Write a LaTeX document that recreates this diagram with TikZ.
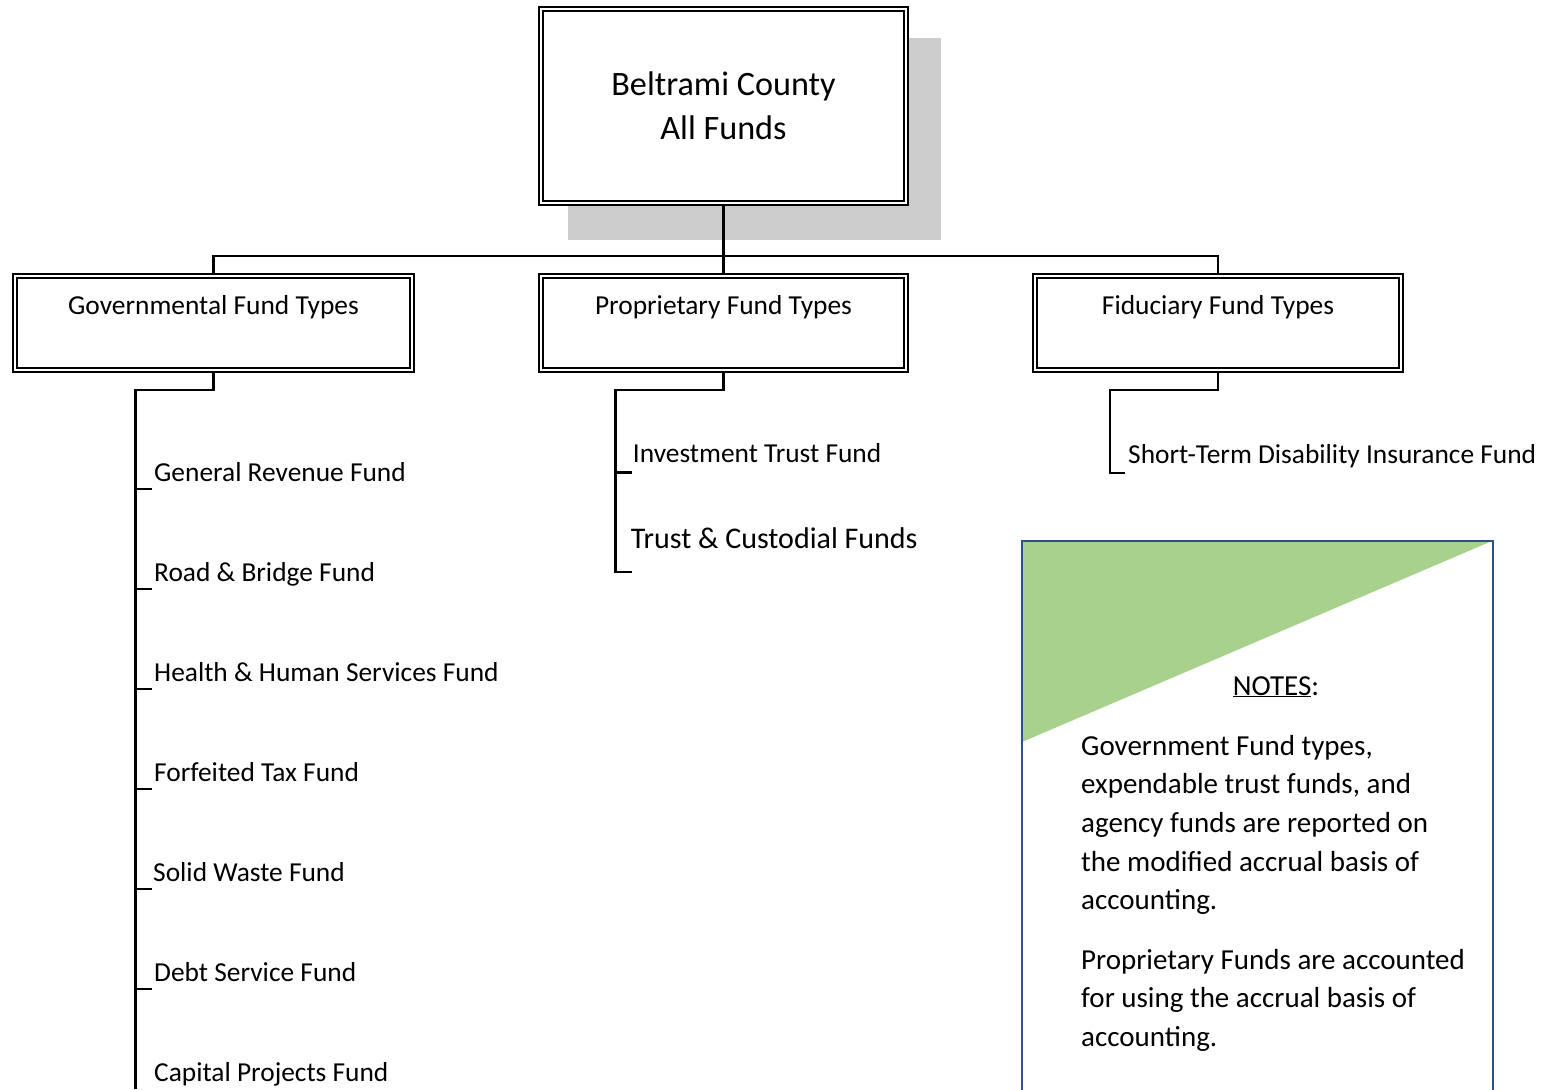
\documentclass[tikz,border=0pt]{standalone}
\usepackage{fontspec}
\setmainfont{Carlito}
\usepackage{xcolor}
\usepackage{tikz}
\usetikzlibrary{positioning}
\definecolor{shadowgray}{RGB}{204, 204, 204}
\definecolor{notegreen}{RGB}{169, 209, 142}
\definecolor{noteblue}{RGB}{47, 82, 143}

\tikzset{
  fundbox/.style={draw=black, line width=1.6pt, double=white, double distance=2pt, fill=white, inner sep=0pt},
  fundtype/.style={fundbox, minimum height=94pt, text height=38pt, text depth=56pt, font=\fontsize{27.4}{33}\selectfont},
  fund/.style={anchor=base west, inner sep=0pt, font=\fontsize{27.4}{33}\selectfont},
  link/.style={line width=2.6pt},
  notefont/.style={font=\fontsize{29}{38.6}\selectfont}
}

\begin{document}
\begin{tikzpicture}[x=1pt, y=-1pt]
\useasboundingbox (0,0) rectangle (1554,1089);

% Top box with its shadow
\fill[shadowgray] (568,38) rectangle (941,240);
\node[fundbox, minimum width=365pt, minimum height=194pt, align=center, font=\fontsize{34.2}{44}\selectfont] (root) at (723.5,106) {Beltrami County\\All Funds};

% Fund types
\node[fundtype, minimum width=397pt] (gov) at (213.5,323) {Governmental Fund Types};
\node[fundtype, minimum width=365pt] (prop) at (723.5,323) {Proprietary Fund Types};
\node[fundtype, minimum width=366pt] (fid) at (1218,323) {Fiduciary Fund Types};

\coordinate (bus) at (723,256);
\draw[link, shorten <=2.6pt, shorten >=2.6pt] (root.south) -- (prop.north);
\draw[link, shorten <=2.6pt, shorten >=2.6pt] (gov.north) |- (bus) -| (fid.north);

% Governmental funds
\node[fund] (g1) at (154,481) {General Revenue Fund};
\node[fund] (g2) at (154,581) {Road \& Bridge Fund};
\node[fund] (g3) at (154,681) {Health \& Human Services Fund};
\node[fund] (g4) at (154,781) {Forfeited Tax Fund};
\node[fund] (g5) at (153,881) {Solid Waste Fund};
\node[fund] (g6) at (154,981) {Debt Service Fund};
\node[fund] (g7) at (154,1081) {Capital Projects Fund};

\draw[link, shorten <=2.6pt] (gov.south) -- ++(0,19) -| ([xshift=-18.5pt,yshift=-8pt]g7.base west);
\draw[link] ([xshift=-2pt,yshift=-8pt]g1.base west) -- ++(-16.5,0);
\draw[link] ([xshift=-2pt,yshift=-8pt]g2.base west) -- ++(-16.5,0);
\draw[link] ([xshift=-2pt,yshift=-8pt]g3.base west) -- ++(-16.5,0);
\draw[link] ([xshift=-2pt,yshift=-8pt]g4.base west) -- ++(-16.5,0);
\draw[link] ([xshift=-1pt,yshift=-8pt]g5.base west) -- ++(-17.5,0);
\draw[link] ([xshift=-2pt,yshift=-8pt]g6.base west) -- ++(-16.5,0);

% Proprietary funds
\node[fund] (pinv) at (632.7,462) {Investment Trust Fund};
\node[fund, font=\fontsize{30}{36}\selectfont] (ptrust) at (630.7,548) {Trust \& Custodial Funds};

\draw[link, shorten <=2.6pt] (prop.south) -- ++(0,19) -| ([xshift=-15pt,yshift=-24pt]ptrust.base west) -- ++(16,0);
\draw[link] ([xshift=-1pt,yshift=-10.5pt]pinv.base west) -- ++(-16.5,0);

% Fiduciary funds
\node[fund] (fstd) at (1128,463) {Short-Term Disability Insurance Fund};

\draw[link, shorten <=2.6pt] (fid.south) -- ++(0,19) -| ([xshift=-18pt,yshift=-10pt]fstd.base west) -- ++(15,0);

% Notes
\fill[notegreen] (1022,541) -- (1492,541) -- (1022,742) -- cycle;
\draw[noteblue, line width=1.8pt] (1022,541) rectangle (1493,1100);
\node[notefont, anchor=base, inner sep=0pt] (notehead) at (1276,695) {\underline{NOTES}:};
\node[notefont, anchor=north west, align=left, inner sep=0pt] (notebody) at (1081,735) {Government Fund types,\\expendable trust funds, and\\agency funds are reported on\\the modified accrual basis of\\accounting.\\[21pt]Proprietary Funds are accounted\\for using the accrual basis of\\accounting.};
\end{tikzpicture}
\end{document}
